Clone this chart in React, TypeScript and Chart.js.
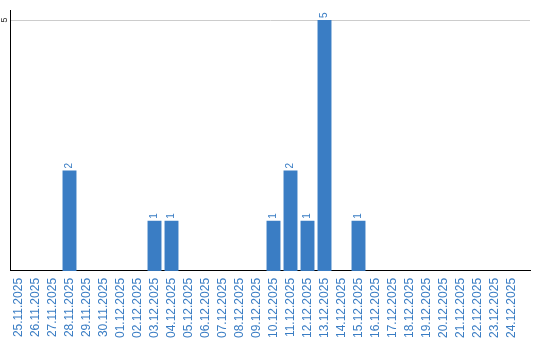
import React, { useEffect, useRef } from "react";
import { Chart, registerables } from "chart.js";

Chart.register(...registerables);

const dates: string[] = [
  "25.11.2025", "26.11.2025", "27.11.2025", "28.11.2025", "29.11.2025", "30.11.2025",
  "01.12.2025", "02.12.2025", "03.12.2025", "04.12.2025", "05.12.2025", "06.12.2025",
  "07.12.2025", "08.12.2025", "09.12.2025", "10.12.2025", "11.12.2025", "12.12.2025",
  "13.12.2025", "14.12.2025", "15.12.2025", "16.12.2025", "17.12.2025", "18.12.2025",
  "19.12.2025", "20.12.2025", "21.12.2025", "22.12.2025", "23.12.2025", "24.12.2025",
];
const counts: number[] = [
  0, 0, 0, 2, 0, 0,
  0, 0, 1, 1, 0, 0,
  0, 0, 0, 1, 2, 1,
  5, 0, 1, 0, 0, 0,
  0, 0, 0, 0, 0, 0,
];
const yTicks: number[] = [5];

const BLUE = "#3a7dc4";

const labelPlugin = {
  id: "valueLabels",
  afterDatasetsDraw(chart: any) {
    const ctx = chart.ctx;
    const meta = chart.getDatasetMeta(0);
    ctx.save();
    ctx.fillStyle = BLUE;
    ctx.font = "10px 'Liberation Sans', Arial, sans-serif";
    ctx.textAlign = "left";
    ctx.textBaseline = "middle";
    meta.data.forEach((el: any, i: number) => {
      const v = counts[i];
      if (!v) return;
      ctx.save();
      ctx.translate(el.x, el.y - 2);
      ctx.rotate(-Math.PI / 2);
      ctx.fillText(String(v), 0, 0);
      ctx.restore();
    });
    const ys = chart.scales.y;
    ctx.fillStyle = "#222";
    ctx.font = "9px 'Liberation Sans', Arial, sans-serif";
    ctx.textAlign = "center";
    yTicks.forEach((t) => {
      const py = ys.getPixelForValue(t);
      ctx.save();
      ctx.translate(5, py);
      ctx.rotate(-Math.PI / 2);
      ctx.fillText(String(t), 0, 0);
      ctx.restore();
    });
    ctx.restore();
  },
};

export default function App() {
  const ref = useRef<HTMLCanvasElement>(null);
  useEffect(() => {
    document.body.style.margin = "0";
    const chart = new Chart(ref.current!, {
      type: "bar",
      data: {
        datasets: [
          {
            data: counts.map((c, i) => ({ x: i, y: c })),
            backgroundColor: BLUE,
            categoryPercentage: 1,
            barPercentage: 0.82,
          },
        ],
      },
      options: {
        animation: false,
        responsive: false,
        maintainAspectRatio: false,
        layout: { padding: { left: 10, right: 10, top: 10, bottom: -5 } },
        plugins: { legend: { display: false }, tooltip: { enabled: false } },
        scales: {
          x: {
            type: "linear",
            offset: false,
            min: -0.5,
            max: -0.5 + 520 / 17,
            afterBuildTicks: (s: any) => {
              s.ticks = dates.map((_, i) => ({ value: i }));
            },
            grid: { display: false, drawTicks: false, offset: false },
            border: { display: true, color: "#000", width: 1 },
            ticks: {
              autoSkip: false,
              minRotation: 90,
              maxRotation: 90,
              padding: 7,
              color: BLUE,
              font: { family: "'Liberation Sans', Arial, sans-serif", size: 12 },
              callback: (v: any) => dates[Math.round(v)] ?? "",
            },
          },
          y: {
            min: 0,
            max: 5.2,
            afterBuildTicks: (s: any) => {
              s.ticks = yTicks.map((v) => ({ value: v }));
            },
            grid: { color: "#cccccc", drawTicks: false },
            border: { display: true, color: "#000", width: 1 },
            ticks: { display: false },
          },
        },
      },
      plugins: [labelPlugin],
    });
    return () => chart.destroy();
  }, []);
  return (
    <div style={{ width: 540, height: 340 }}>
      <canvas ref={ref} width={540} height={340} style={{ display: "block" }} />
    </div>
  );
}
